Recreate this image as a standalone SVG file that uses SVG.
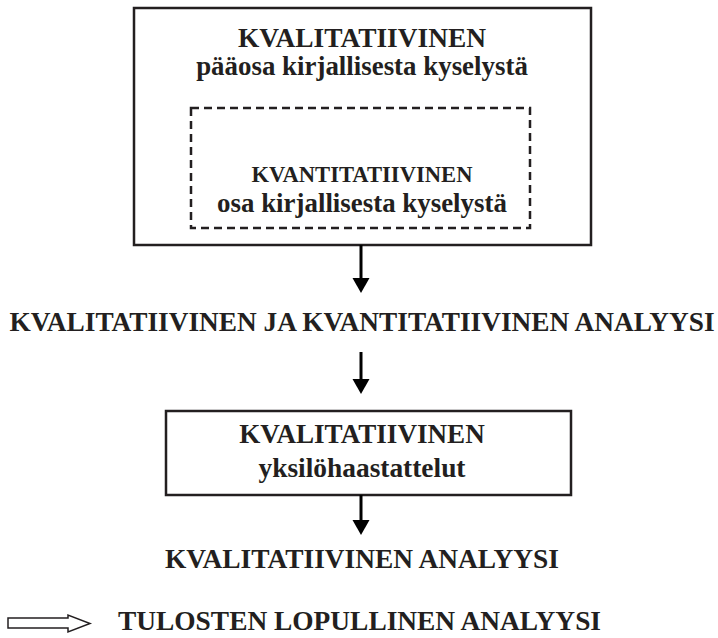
<svg xmlns="http://www.w3.org/2000/svg" width="718" height="638" viewBox="0 0 718 638">
  <style>
    .t{font-family:"Liberation Serif","Times New Roman",serif;font-weight:bold;fill:#231f20;text-anchor:middle}
    .box{fill:#fff;stroke:#231f20;stroke-width:2.5}
    .dash{fill:none;stroke:#231f20;stroke-width:2.5;stroke-dasharray:8 5}
    .conn{stroke:#000;stroke-width:3;fill:none}
    .head{fill:#000}
  </style>
  <rect width="718" height="638" fill="#fff"/>
  <g id="node-kvalitatiivinen-kysely">
    <rect class="box" x="134" y="8" width="457" height="237"/>
    <text class="t" x="362" y="47" font-size="27.4">KVALITATIIVINEN</text>
    <text class="t" x="362" y="75" font-size="26.9">pääosa kirjallisesta kyselystä</text>
  </g>
  <g id="node-kvantitatiivinen-kysely">
    <rect class="dash" x="191" y="108" width="339" height="120"/>
    <text class="t" x="362" y="182" font-size="22.6">KVANTITATIIVINEN</text>
    <text class="t" x="362" y="212" font-size="26.9">osa kirjallisesta kyselystä</text>
  </g>
  <g id="node-analyysi-1">
    <text class="t" x="362" y="331" font-size="27.3">KVALITATIIVINEN JA KVANTITATIIVINEN ANALYYSI</text>
  </g>
  <g id="node-haastattelut">
    <rect class="box" x="166" y="411" width="405" height="84"/>
    <text class="t" x="362" y="443" font-size="27.1">KVALITATIIVINEN</text>
    <text class="t" x="362" y="477" font-size="27.4">yksilöhaastattelut</text>
  </g>
  <g id="node-analyysi-2">
    <text class="t" x="362" y="568" font-size="27.4">KVALITATIIVINEN ANALYYSI</text>
  </g>
  <g id="node-lopullinen">
    <text class="t" x="118" y="630" font-size="27.4" style="text-anchor:start">TULOSTEN LOPULLINEN ANALYYSI</text>
  </g>
  <g id="connectors">
    <line class="conn" x1="361" y1="245" x2="361" y2="280"/>
    <polygon class="head" points="352.5,278 369.5,278 361,293"/>
    <line class="conn" x1="361" y1="352" x2="361" y2="381"/>
    <polygon class="head" points="352.5,379 369.5,379 361,394"/>
    <line class="conn" x1="361" y1="495" x2="361" y2="522"/>
    <polygon class="head" points="352.5,520 369.5,520 361,535"/>
    <polygon points="8,618 68,618 68,615 90,623.5 68,632 68,628 8,628" fill="#fff" stroke="#231f20" stroke-width="1.5"/>
  </g>
</svg>
